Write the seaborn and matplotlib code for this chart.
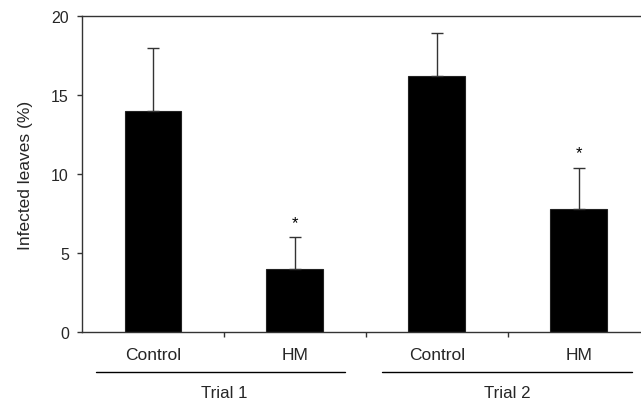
import matplotlib
matplotlib.use("Agg")
import matplotlib.pyplot as plt
import matplotlib.transforms as mtransforms
import numpy as np
import pandas as pd
import seaborn as sns

# Infection data per trial and treatment
groups = ["Trial 1", "Trial 1", "Trial 2", "Trial 2"]
treatments = ["Control", "HM", "Control", "HM"]
means = [14.0, 4.0, 16.2, 7.8]
errors = [4.0, 2.0, 2.7, 2.6]
significant = [False, True, False, True]
trial_labels = ["Trial 1", "Trial 2"]
y_ticks = [0, 5, 10, 15, 20]

sns.set_theme(style="white")
plt.rcParams["font.family"] = ["Liberation Sans", "DejaVu Sans"]

df = pd.DataFrame({
    "key": [f"{g} {t}" for g, t in zip(groups, treatments)],
    "treatment": treatments,
    "mean": means,
    "err": errors,
})

fig = plt.figure(figsize=(6.41, 4.02), dpi=100)
ax = fig.add_axes([0.128, 0.1716, 0.872, 0.786])

sns.barplot(data=df, x="key", y="mean", color="black", width=0.4,
            saturation=1, errorbar=None, ax=ax, edgecolor="#222222", linewidth=0.8)

pos = np.arange(len(df))
ax.errorbar(pos, df["mean"], yerr=[np.zeros(len(df)), df["err"]],
            fmt="none", ecolor="#333333", elinewidth=1.0, capsize=4, capthick=1.0)

for x, m, e, s in zip(pos, df["mean"], df["err"], significant):
    if s:
        ax.text(x, m + e + 0.45, "*", ha="center", va="bottom", fontsize=12, color="black")

ax.set_xlim(-0.5, 3.44)
ax.set_ylim(0, 20)
ax.set_yticks(y_ticks)
ax.set_yticklabels([str(v) for v in y_ticks], fontsize=11.5)
ax.set_ylabel("Infected leaves (%)", fontsize=12.5, labelpad=13)
ax.set_xlabel("")

# category labels at bar centers, tick marks between bars
ax.set_xticks(pos)
ax.set_xticklabels(treatments, fontsize=12.5)
ax.tick_params(axis="x", which="major", bottom=True, length=0, pad=11)
ax.set_xticks([0.5, 1.5, 2.5], minor=True)
ax.tick_params(axis="x", which="minor", bottom=True, length=3.5, width=1,
               color="#333333", direction="out")
ax.tick_params(axis="y", which="major", left=True, length=3.5, width=1,
               color="#333333", direction="out", pad=6)

for side in ["left", "bottom", "top"]:
    ax.spines[side].set_visible(True)
    ax.spines[side].set_color("#333333")
    ax.spines[side].set_linewidth(1.0)
ax.spines["right"].set_visible(False)

# trial group brackets under the categories
trans = mtransforms.blended_transform_factory(ax.transData, ax.transAxes)
spans = [(-0.405, 1.35), (1.616, 3.377)]
centers = [0.5, 2.5]
for (x0, x1), cx, lab in zip(spans, centers, trial_labels):
    ax.plot([x0, x1], [-0.127, -0.127], color="black", lw=1.0,
            transform=trans, clip_on=False)
    ax.text(cx, -0.19, lab, transform=trans,
            ha="center", va="center", fontsize=12.2)

fig.savefig("out.png", dpi=100)
